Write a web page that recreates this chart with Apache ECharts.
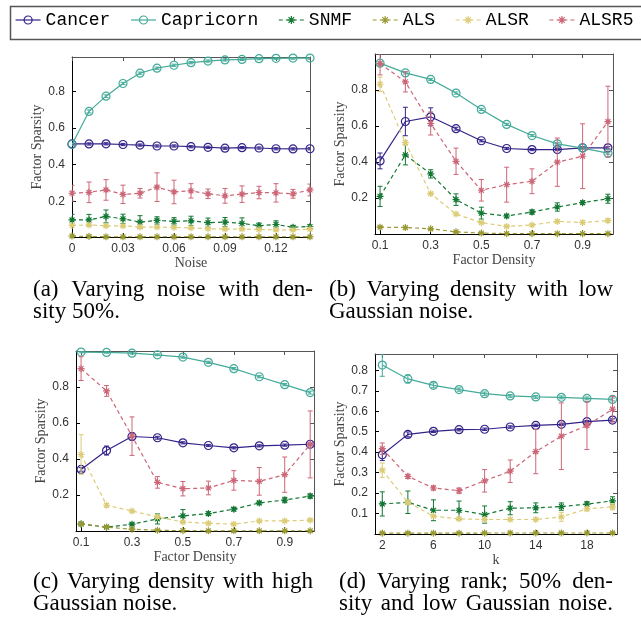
<!DOCTYPE html>
<html>
<head>
<meta charset="utf-8">
<script src="https://cdn.jsdelivr.net/npm/echarts@6/dist/echarts.min.js"></script>
<style>
    html, body { margin: 0; padding: 0; background: #fff; }
    #chart { width: 641px; height: 623px; }
</style>
</head>
<body>
<div id="chart"></div>
<script>
// series names and colours (same order in every panel)
const seriesNames = ['Cancer', 'Capricorn', 'SNMF', 'ALS', 'ALSR', 'ALSR5'];
const seriesColors = ['#332288', '#44AA99', '#117733', '#999933', '#DDCC77', '#CC6677'];

// x values
const noiseLevels = [0, 0.01, 0.02, 0.03, 0.04, 0.05, 0.06, 0.07, 0.08, 0.09, 0.1, 0.11, 0.12, 0.13, 0.14];
const densityLevels = [0.1, 0.2, 0.3, 0.4, 0.5, 0.6, 0.7, 0.8, 0.9, 1.0];
const rankLevels = [2, 4, 6, 8, 10, 12, 14, 16, 18, 20];

// tick labels
const noiseTicks = [0, 0.03, 0.06, 0.09, 0.12];
const densityTicks = [0.1, 0.3, 0.5, 0.7, 0.9];
const rankTicks = [2, 6, 10, 14, 18];
const sparsityTicks = [0.2, 0.4, 0.6, 0.8];
const rankSparsityTicks = [0.1, 0.2, 0.3, 0.4, 0.5, 0.6, 0.7, 0.8];

// (a) varying noise, density 50%
const aCancer = [0.513, 0.513, 0.514, 0.510, 0.507, 0.502, 0.502, 0.498, 0.495, 0.490, 0.493, 0.491, 0.487, 0.486, 0.487];
const aCancerErr = [0.006, 0.006, 0.006, 0.006, 0.006, 0.006, 0.006, 0.006, 0.006, 0.006, 0.006, 0.006, 0.006, 0.006, 0.006];
const aCapricorn = [0.51, 0.69, 0.773, 0.842, 0.898, 0.925, 0.941, 0.955, 0.964, 0.97, 0.973, 0.977, 0.979, 0.98, 0.98];
const aCapricornErr = [0.006, 0.008, 0.007, 0.006, 0.006, 0.006, 0.006, 0.006, 0.006, 0.006, 0.006, 0.006, 0.006, 0.006, 0.006];
const aSNMF = [0.1, 0.1, 0.119, 0.106, 0.088, 0.097, 0.092, 0.095, 0.085, 0.088, 0.081, 0.068, 0.075, 0.06, 0.064];
const aSNMFErr = [0.03, 0.03, 0.035, 0.025, 0.035, 0.02, 0.02, 0.025, 0.025, 0.025, 0.03, 0.015, 0.02, 0.01, 0.01];
const aALS = [0.012, 0.01, 0.008, 0.008, 0.008, 0.008, 0.008, 0.008, 0.008, 0.008, 0.008, 0.008, 0.008, 0.008, 0.008];
const aALSErr = [0.003, 0.003, 0.003, 0.003, 0.003, 0.003, 0.003, 0.003, 0.003, 0.003, 0.003, 0.003, 0.003, 0.003, 0.003];
const aALSR = [0.07, 0.072, 0.068, 0.068, 0.061, 0.061, 0.059, 0.057, 0.052, 0.05, 0.05, 0.048, 0.046, 0.046, 0.05];
const aALSRErr = [0.005, 0.005, 0.005, 0.005, 0.005, 0.005, 0.005, 0.005, 0.005, 0.005, 0.005, 0.005, 0.005, 0.005, 0.005];
const aALSR5 = [0.245, 0.25, 0.263, 0.239, 0.245, 0.278, 0.252, 0.258, 0.242, 0.231, 0.24, 0.249, 0.247, 0.242, 0.263];
const aALSR5Err = [0.043, 0.056, 0.056, 0.05, 0.026, 0.078, 0.064, 0.039, 0.026, 0.04, 0.045, 0.034, 0.05, 0.024, 0.032];

// (b) varying density, low gaussian noise
const bCancer = [0.406, 0.625, 0.651, 0.585, 0.518, 0.475, 0.469, 0.469, 0.479, 0.479];
const bCancerErr = [0.044, 0.079, 0.05, 0.008, 0.006, 0.006, 0.006, 0.006, 0.006, 0.006];
const bCapricorn = [0.949, 0.895, 0.859, 0.783, 0.692, 0.609, 0.547, 0.501, 0.477, 0.449];
const bCapricornErr = [0.006, 0.006, 0.006, 0.006, 0.006, 0.006, 0.006, 0.006, 0.006, 0.006];
const bSNMF = [0.209, 0.44, 0.334, 0.191, 0.116, 0.1, 0.122, 0.15, 0.174, 0.196];
const bSNMFErr = [0.056, 0.056, 0.023, 0.032, 0.033, 0.01, 0.012, 0.023, 0.01, 0.025];
const bALS = [0.038, 0.036, 0.029, 0.012, 0.005, 0.002, 0.002, 0.002, 0.002, 0.002];
const bALSErr = [0.003, 0.003, 0.003, 0.003, 0.003, 0.003, 0.003, 0.003, 0.003, 0.003];
const bALSR = [0.832, 0.508, 0.224, 0.111, 0.063, 0.042, 0.05, 0.07, 0.064, 0.074];
const bALSRErr = [0.04, 0.012, 0.008, 0.006, 0.006, 0.006, 0.006, 0.008, 0.008, 0.01];
const bALSR5 = [0.947, 0.845, 0.614, 0.404, 0.243, 0.274, 0.293, 0.399, 0.432, 0.624];
const bALSR5Err = [0.063, 0.056, 0.064, 0.073, 0.06, 0.097, 0.069, 0.134, 0.18, 0.197];

// (c) varying density, high gaussian noise
const cCancer = [0.342, 0.447, 0.525, 0.518, 0.49, 0.475, 0.462, 0.473, 0.477, 0.482];
const cCancerErr = [0.01, 0.025, 0.02, 0.008, 0.006, 0.006, 0.006, 0.006, 0.006, 0.006];
const cCapricorn = [0.994, 0.992, 0.988, 0.979, 0.966, 0.937, 0.902, 0.857, 0.813, 0.769];
const cCapricornErr = [0.004, 0.004, 0.005, 0.005, 0.006, 0.006, 0.006, 0.006, 0.006, 0.008];
const cSNMF = [0.039, 0.021, 0.038, 0.067, 0.084, 0.097, 0.121, 0.156, 0.172, 0.194];
const cSNMFErr = [0.005, 0.005, 0.006, 0.028, 0.035, 0.01, 0.01, 0.01, 0.015, 0.012];
const cALS = [0.039, 0.021, 0.01, 0.004, 0.002, 0.001, 0.001, 0.001, 0.001, 0.001];
const cALSErr = [0.003, 0.003, 0.003, 0.003, 0.003, 0.003, 0.003, 0.003, 0.003, 0.003];
const cALSR = [0.425, 0.143, 0.111, 0.078, 0.05, 0.043, 0.038, 0.056, 0.056, 0.06];
const cALSRErr = [0.11, 0.01, 0.006, 0.006, 0.006, 0.006, 0.006, 0.006, 0.006, 0.006];
const cALSR5 = [0.902, 0.778, 0.527, 0.27, 0.235, 0.239, 0.281, 0.276, 0.313, 0.481];
const cALSR5Err = [0.066, 0.03, 0.107, 0.032, 0.04, 0.038, 0.054, 0.077, 0.098, 0.186];

// (d) varying rank, density 50%, low gaussian noise
const dCancer = [0.387, 0.487, 0.502, 0.51, 0.512, 0.523, 0.531, 0.536, 0.549, 0.557];
const dCancerErr = [0.028, 0.012, 0.006, 0.006, 0.006, 0.006, 0.006, 0.006, 0.006, 0.006];
const dCapricorn = [0.826, 0.758, 0.727, 0.706, 0.686, 0.675, 0.67, 0.668, 0.663, 0.658];
const dCapricornErr = [0.055, 0.02, 0.012, 0.008, 0.008, 0.007, 0.007, 0.007, 0.007, 0.007];
const dSNMF = [0.147, 0.155, 0.116, 0.116, 0.095, 0.126, 0.128, 0.134, 0.146, 0.162];
const dSNMFErr = [0.059, 0.055, 0.051, 0.045, 0.042, 0.032, 0.024, 0.018, 0.012, 0.02];
const dALS = [0.004, 0.004, 0.004, 0.004, 0.005, 0.005, 0.005, 0.005, 0.005, 0.005];
const dALSErr = [0.003, 0.003, 0.003, 0.003, 0.003, 0.003, 0.003, 0.003, 0.003, 0.003];
const dALSR = [0.312, 0.155, 0.087, 0.074, 0.071, 0.071, 0.071, 0.084, 0.123, 0.133];
const dALSRErr = [0.035, 0.01, 0.006, 0.006, 0.006, 0.006, 0.006, 0.022, 0.01, 0.015];
const dALSR5 = [0.417, 0.282, 0.225, 0.212, 0.26, 0.307, 0.403, 0.478, 0.53, 0.61];
const dALSR5Err = [0.028, 0.01, 0.01, 0.013, 0.055, 0.055, 0.108, 0.163, 0.117, 0.063];

// captions
const captionA = ['(a) Varying noise with den-', 'sity 50%.'];
const captionB = ['(b) Varying density with low', 'Gaussian noise.'];
const captionC = ['(c) Varying density with high', 'Gaussian noise.'];
const captionD = ['(d) Varying rank; 50% den-', 'sity and low Gaussian noise.'];

const panels = [
    {
        grid: { left: 72, top: 57, width: 238, height: 180 },
        x: noiseLevels, xMin: 0, xMax: 0.14, xTicks: noiseTicks, xName: 'Noise', xNameGap: 17,
        yMin: 0.007, yMax: 0.986, yTicks: sparsityTicks, yNameGap: 25,
        values: [aCancer, aCapricorn, aSNMF, aALS, aALSR, aALSR5],
        errors: [aCancerErr, aCapricornErr, aSNMFErr, aALSErr, aALSRErr, aALSR5Err]
    },
    {
        grid: { left: 375, top: 54, width: 238, height: 180 },
        x: densityLevels, xMin: 0.08, xMax: 1.02, xTicks: densityTicks, xName: 'Factor Density', xNameGap: 16,
        yMin: 0, yMax: 1, yTicks: sparsityTicks, yNameGap: 23,
        values: [bCancer, bCapricorn, bSNMF, bALS, bALSR, bALSR5],
        errors: [bCancerErr, bCapricornErr, bSNMFErr, bALSErr, bALSRErr, bALSR5Err]
    },
    {
        grid: { left: 76, top: 351, width: 238, height: 180 },
        x: densityLevels, xMin: 0.08, xMax: 1.015, xTicks: densityTicks, xName: 'Factor Density', xNameGap: 16,
        yMin: 0, yMax: 1, yTicks: sparsityTicks, yNameGap: 26,
        values: [cCancer, cCapricorn, cSNMF, cALS, cALSR, cALSR5],
        errors: [cCancerErr, cCapricornErr, cSNMFErr, cALSErr, cALSRErr, cALSR5Err]
    },
    {
        grid: { left: 375, top: 354, width: 242, height: 180 },
        x: rankLevels, xMin: 1.43, xMax: 20.35, xTicks: rankTicks, xName: 'k', xNameGap: 15,
        yMin: 0, yMax: 0.88, yTicks: rankSparsityTicks, yNameGap: 21,
        values: [dCancer, dCapricorn, dSNMF, dALS, dALSR, dALSR5],
        errors: [dCancerErr, dCapricornErr, dSNMFErr, dALSErr, dALSRErr, dALSR5Err]
    }
];

const asterisk = 'path://M-1,0L1,0M0,-1L0,1M-0.7,-0.7L0.7,0.7M-0.7,0.7L0.7,-0.7';
const tickFont = { fontFamily: 'Liberation Sans', fontSize: 12, color: '#333' };
const nameFont = { fontFamily: 'Liberation Serif', fontSize: 14, color: '#444' };
const fmt = v => String(Math.round(v * 100) / 100);

let grids = [], xAxes = [], yAxes = [], series = [];

panels.forEach((p, gi) => {
    grids.push(p.grid);
    // bottom / left axes carry labels, top / right only mirror the ticks
    xAxes.push({
        type: 'value', gridIndex: gi, min: p.xMin, max: p.xMax, position: 'bottom',
        name: p.xName, nameLocation: 'middle', nameGap: p.xNameGap, nameTextStyle: nameFont,
        axisLine: { onZero: false, lineStyle: { color: '#000', width: 1 } },
        axisTick: { inside: true, length: 4, customValues: p.xTicks, lineStyle: { color: '#000' } },
        axisLabel: Object.assign({ customValues: p.xTicks, formatter: fmt, margin: 6 }, tickFont),
        splitLine: { show: false }
    });
    xAxes.push({
        type: 'value', gridIndex: gi, min: p.xMin, max: p.xMax, position: 'top',
        axisLine: { onZero: false, lineStyle: { color: '#555', width: 1 } },
        axisTick: { inside: true, length: 4, customValues: p.xTicks, lineStyle: { color: '#555' } },
        axisLabel: { show: false },
        splitLine: { show: false }
    });
    yAxes.push({
        type: 'value', gridIndex: gi, min: p.yMin, max: p.yMax, position: 'left',
        name: 'Factor Sparsity', nameLocation: 'middle', nameGap: p.yNameGap, nameTextStyle: nameFont,
        axisLine: { onZero: false, lineStyle: { color: '#000', width: 1 } },
        axisTick: { inside: true, length: 4, customValues: p.yTicks, lineStyle: { color: '#000' } },
        axisLabel: Object.assign({ customValues: p.yTicks, formatter: fmt, margin: 7 }, tickFont),
        splitLine: { show: false }
    });
    yAxes.push({
        type: 'value', gridIndex: gi, min: p.yMin, max: p.yMax, position: 'right',
        axisLine: { onZero: false, lineStyle: { color: '#555', width: 1 } },
        axisTick: { inside: true, length: 4, customValues: p.yTicks, lineStyle: { color: '#555' } },
        axisLabel: { show: false },
        splitLine: { show: false }
    });

    seriesNames.forEach((name, si) => {
        const color = seriesColors[si];
        const isCircle = si < 2;
        series.push({
            name: name,
            type: 'line',
            xAxisIndex: gi * 2,
            yAxisIndex: gi * 2,
            z: 2 + si,
            data: p.x.map((xv, i) => [xv, p.values[si][i]]),
            symbol: isCircle ? 'circle' : asterisk,
            symbolSize: isCircle ? 8 : 7,
            showAllSymbol: true,
            lineStyle: { color: color, width: 1.2, type: isCircle ? 'solid' : [4, 3] },
            itemStyle: { color: isCircle ? 'rgba(0,0,0,0)' : color, borderColor: color, borderWidth: 1.2 },
            emphasis: { disabled: true },
            silent: true
        });
        series.push({
            name: name + ' error',
            type: 'custom',
            xAxisIndex: gi * 2,
            yAxisIndex: gi * 2,
            z: 2 + si,
            clip: true,
            silent: true,
            data: p.x.map((xv, i) => [xv, p.values[si][i], p.errors[si][i]]),
            encode: { x: 0, y: 1 },
            renderItem: (params, api) => {
                const xv = api.value(0), yv = api.value(1), e = api.value(2);
                const top = api.coord([xv, yv + e]);
                const bot = api.coord([xv, yv - e]);
                const w = 2.5;
                const st = { stroke: color, lineWidth: 1 };
                return {
                    type: 'group',
                    children: [
                        { type: 'line', shape: { x1: top[0], y1: top[1], x2: bot[0], y2: bot[1] }, style: st },
                        { type: 'line', shape: { x1: top[0] - w, y1: top[1], x2: top[0] + w, y2: top[1] }, style: st },
                        { type: 'line', shape: { x1: bot[0] - w, y1: bot[1], x2: bot[0] + w, y2: bot[1] }, style: st }
                    ]
                };
            }
        });
    });
});

// captions, first lines justified like the typeset text
const captionFont = '23px "Liberation Serif"';
const measureCtx = document.createElement('canvas').getContext('2d');
measureCtx.font = captionFont;

function captionLine(text, x, y, width, justify) {
    if (!justify) {
        return [{ type: 'text', x: x, y: y, style: { text: text, font: captionFont, fill: '#000', verticalAlign: 'middle' } }];
    }
    const words = text.split(' ');
    const total = words.reduce((s, w) => s + measureCtx.measureText(w).width, 0);
    const gap = (width - total) / (words.length - 1);
    let cx = x;
    return words.map(w => {
        const el = { type: 'text', x: cx, y: y, style: { text: w, font: captionFont, fill: '#000', verticalAlign: 'middle' } };
        cx += measureCtx.measureText(w).width + gap;
        return el;
    });
}

let graphics = [{
    type: 'rect', left: 8, top: 4, silent: true,
    shape: { width: 640, height: 33 },
    style: { fill: 'none', stroke: '#555', lineWidth: 1.5 }
}];
graphics = graphics
    .concat(captionLine(captionA[0], 33, 290, 280, true))
    .concat(captionLine(captionA[1], 33, 312, 280, false))
    .concat(captionLine(captionB[0], 329, 290, 284, true))
    .concat(captionLine(captionB[1], 329, 312, 284, false))
    .concat(captionLine(captionC[0], 33, 582, 280, true))
    .concat(captionLine(captionC[1], 33, 604, 280, false))
    .concat(captionLine(captionD[0], 339, 582, 274, true))
    .concat(captionLine(captionD[1], 339, 604, 274, true));

let myChart = echarts.init(document.getElementById('chart'));
myChart.setOption({
    animation: false,
    legend: {
        data: seriesNames,
        left: 15,
        top: 11,
        width: 626,
        padding: 0,
        itemGap: 20,
        itemWidth: 25,
        itemHeight: 10,
        selectedMode: false,
        textStyle: { fontFamily: 'Liberation Mono', fontSize: 18, color: '#000' },
        itemStyle: { borderWidth: 1.2 },
        lineStyle: { width: 1.2 }
    },
    grid: grids,
    xAxis: xAxes,
    yAxis: yAxes,
    series: series,
    graphic: graphics
});
</script>
</body>
</html>
